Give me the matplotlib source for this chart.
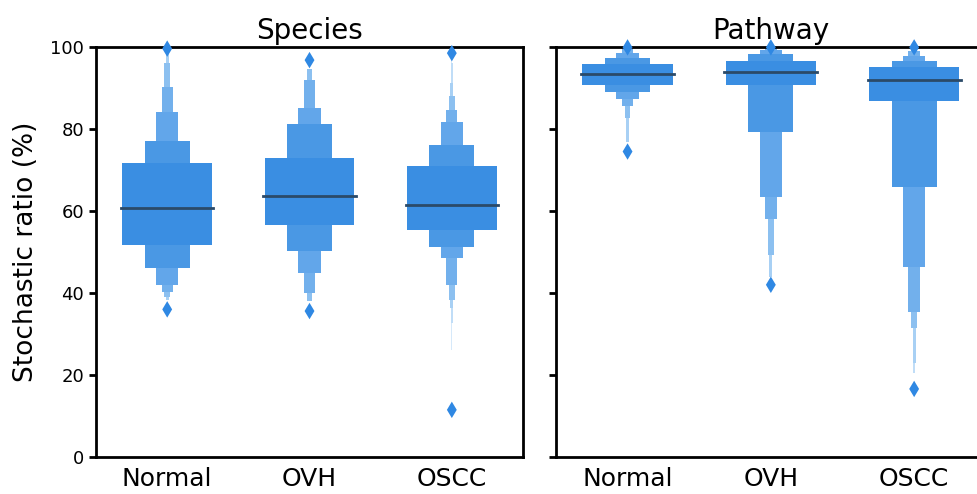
import matplotlib
matplotlib.use("Agg")
import matplotlib.pyplot as plt

groups = ["Normal", "OVH", "OSCC"]
panels = ["Species", "Pathway"]

# letter-value boxes, innermost level first (lower / upper edge)
species_normal_lo = [51.7, 46.0, 41.9, 40.3, 39.1, 38.3]
species_normal_hi = [71.6, 77.1, 84.1, 90.2, 96.0, 98.5]
species_ovh_lo = [56.6, 50.2, 44.8, 39.9, 38.1]
species_ovh_hi = [73.0, 81.1, 85.0, 92.0, 94.6]
species_oscc_lo = [55.4, 51.2, 48.6, 41.9, 38.3, 36.3, 32.6, 26.1]
species_oscc_hi = [71.0, 76.1, 81.6, 84.6, 88.1, 91.1, 96.0, 97.5]

pathway_normal_lo = [90.7, 88.9, 87.3, 85.6, 82.6, 76.9]
pathway_normal_hi = [95.9, 97.2, 98.6, 99.5, 99.9, 100.0]
pathway_ovh_lo = [90.7, 79.3, 63.5, 58.0, 49.3, 44.0]
pathway_ovh_hi = [96.7, 98.3, 99.3, 99.7, 99.9, 100.0]
pathway_oscc_lo = [86.9, 65.9, 46.4, 35.4, 31.4, 22.9, 20.5]
pathway_oscc_hi = [95.2, 96.6, 97.9, 98.9, 99.5, 99.8, 100.0]

species_medians = [60.7, 63.7, 61.5]
pathway_medians = [93.4, 94.0, 92.0]

species_outliers = [[99.6, 36.0], [96.8, 35.6], [98.5, 11.5]]
pathway_outliers = [[99.9, 74.5], [99.9, 42.0], [99.9, 16.6]]

levels = {
    "Species": [(species_normal_lo, species_normal_hi),
                (species_ovh_lo, species_ovh_hi),
                (species_oscc_lo, species_oscc_hi)],
    "Pathway": [(pathway_normal_lo, pathway_normal_hi),
                (pathway_ovh_lo, pathway_ovh_hi),
                (pathway_oscc_lo, pathway_oscc_hi)],
}
medians = {"Species": species_medians, "Pathway": pathway_medians}
outliers = {"Species": species_outliers, "Pathway": pathway_outliers}

level_colors = ["#3a8ee2", "#4a98e4", "#62a6ea", "#72b0ec",
                "#8cc0f0", "#a8d0f4", "#c0ddf7", "#d6e9fa"]
point_color = "#2f88e3"
median_color = "#2b4a68"

fig = plt.figure(figsize=(9.77, 4.94), dpi=100)
ax1 = fig.add_axes([0.0983, 0.0749, 0.437, 0.830])
# right panel runs a little past the figure edge, as in the reference
ax2 = fig.add_axes([0.569, 0.0749, 0.44, 0.830], sharey=ax1)

for ax, name in zip([ax1, ax2], panels):
    for i, (lo, hi) in enumerate(levels[name]):
        # outer (narrow) levels first, so the main box sits on top
        for k in reversed(range(len(lo))):
            w = 0.632 * 0.5 ** k
            ax.bar(i, hi[k] - lo[k], bottom=lo[k], width=w,
                   color=level_colors[k], edgecolor="none", zorder=2)
        ax.plot([i - 0.325, i + 0.325], [medians[name][i]] * 2,
                color=median_color, lw=2, zorder=3)
        pts = outliers[name][i]
        ax.scatter([i] * len(pts), pts, marker="d", s=70,
                   color=point_color, edgecolor="none", zorder=4,
                   clip_on=False)
    ax.set_xlim(-0.5, 2.5)
    ax.set_ylim(0, 100)
    ax.set_xticks(range(3))
    ax.set_xticklabels(groups, fontsize=18)
    ax.tick_params(axis="x", length=0, pad=7)
    ax.tick_params(axis="y", length=5, width=2, labelsize=13)
    ax.set_title(name, fontsize=20, pad=6)
    for s in ax.spines.values():
        s.set_linewidth(2)

ax1.set_yticks([0, 20, 40, 60, 80, 100])
ax1.set_ylabel("Stochastic ratio (%)", fontsize=19, labelpad=8)
plt.setp(ax2.get_yticklabels(), visible=False)

fig.savefig("out.png", dpi=100)
